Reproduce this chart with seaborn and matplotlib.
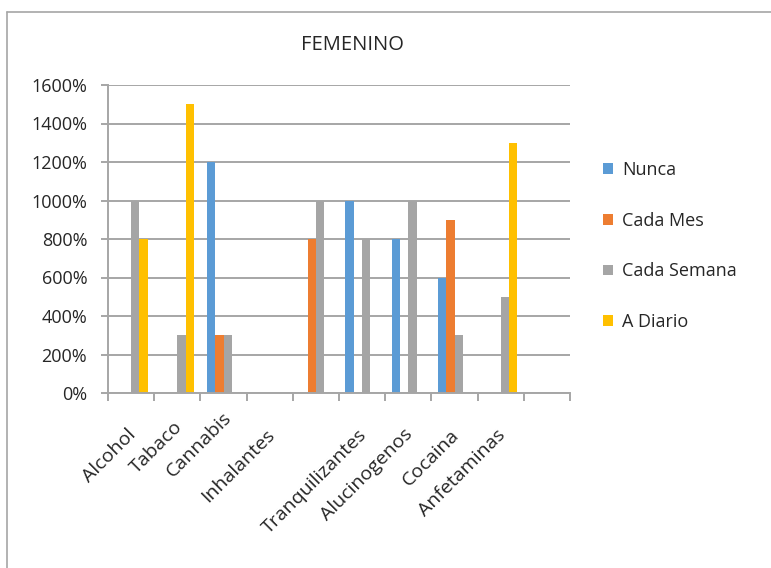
import pandas as pd
import numpy as np
import matplotlib.pyplot as plt
import matplotlib.transforms as mtransforms
from matplotlib.lines import Line2D
from matplotlib.ticker import FixedLocator, FuncFormatter
import seaborn as sns

# Datos del grafico (porcentajes)
categorias = ["Alcohol", "Tabaco", "Cannabis", "Inhalantes", " ",
              "Tranquilizantes", "Alucinogenos", "Cocaina", "Anfetaminas", "  "]
series = ["Nunca", "Cada Mes", "Cada Semana", "A Diario"]
nunca = [0, 0, 1200, 0, 0, 1000, 800, 600, 0, 0]
cada_mes = [0, 0, 300, 0, 800, 0, 0, 900, 0, 0]
cada_semana = [1000, 300, 300, 0, 1000, 800, 1000, 300, 500, 0]
a_diario = [800, 1500, 0, 0, 0, 0, 0, 0, 1300, 0]
colores = ["#5B9BD5", "#ED7D31", "#A5A5A5", "#FFC000"]

# Formato largo para seaborn
data = pd.DataFrame({
    "Sustancia": categorias * 4,
    "Frecuencia": np.repeat(series, len(categorias)),
    "Valor": nunca + cada_mes + cada_semana + a_diario,
})

sns.set_theme(style="white")
plt.rcParams["font.family"] = ["Open Sans", "DejaVu Sans"]
texto = "#262626"
gris = "#a6a6a6"

fig = plt.figure(figsize=(7.71, 5.68), dpi=100)
ax = fig.add_axes([108 / 771, 1 - 393 / 568, (570 - 108) / 771, (393 - 85) / 568])

sns.barplot(data=data, x="Sustancia", y="Valor", hue="Frecuencia",
            order=categorias, hue_order=series, palette=colores,
            width=0.727, gap=0, saturation=1, linewidth=0, ax=ax)

ax.set_xlim(-0.5, len(categorias) - 0.5)
ax.set_ylim(0, 1600)
ax.set_yticks(np.arange(0, 1601, 200))
ax.yaxis.set_major_formatter(FuncFormatter(lambda v, p: f"{int(v)}%"))
ax.grid(axis="y", color=gris, linewidth=1.4)
ax.set_axisbelow(True)
ax.set_xlabel("")
ax.set_ylabel("")

for lado in ["top", "right"]:
    ax.spines[lado].set_visible(False)
for lado in ["left", "bottom"]:
    ax.spines[lado].set_color(gris)
    ax.spines[lado].set_linewidth(1.4)

ax.tick_params(axis="y", length=5, width=1.4, color=gris, pad=10,
               labelsize=13, labelcolor=texto, left=True)
ax.xaxis.set_minor_locator(FixedLocator(np.arange(-0.5, len(categorias), 1)))
ax.tick_params(axis="x", which="minor", length=6, width=1.4, color=gris, bottom=True)
ax.tick_params(axis="x", which="major", length=0, pad=28, labelsize=14, labelcolor=texto)

# Excel sube un poco algunas etiquetas
ajuste = {"Tabaco": (0.0, 0.08), "Cannabis": (0.03, 0.17)}
for lab in ax.get_xticklabels():
    dx, dy = ajuste.get(lab.get_text(), (0.0, 0.0))
    desplaza = mtransforms.ScaledTranslation(0.02 + dx, dy, fig.dpi_scale_trans)
    lab.set_rotation(45)
    lab.set_ha("right")
    lab.set_va("center")
    lab.set_rotation_mode("anchor")
    lab.set_transform(lab.get_transform() + desplaza)

# Leyenda a la derecha
handles, labels = ax.get_legend_handles_labels()
ax.legend_.remove()
fig.legend(handles, labels, loc="center left", bbox_to_anchor=(603 / 771, 1 - 246 / 568),
           frameon=False, fontsize=13, labelcolor=texto, handlelength=0.55,
           handleheight=0.55, handletextpad=0.5, labelspacing=1.81,
           borderpad=0, borderaxespad=0)

fig.text(352 / 771, 1 - 45 / 568, "FEMENINO", ha="center", va="center",
         fontsize=14.5, color=texto)

# Borde del area del grafico
fig.add_artist(Line2D([7 / 771, 1], [1 - 12 / 568, 1 - 12 / 568], color=gris, linewidth=1.2))
fig.add_artist(Line2D([7 / 771, 7 / 771], [0, 1 - 12 / 568], color=gris, linewidth=1.2))

fig.savefig("out.png", dpi=100)
